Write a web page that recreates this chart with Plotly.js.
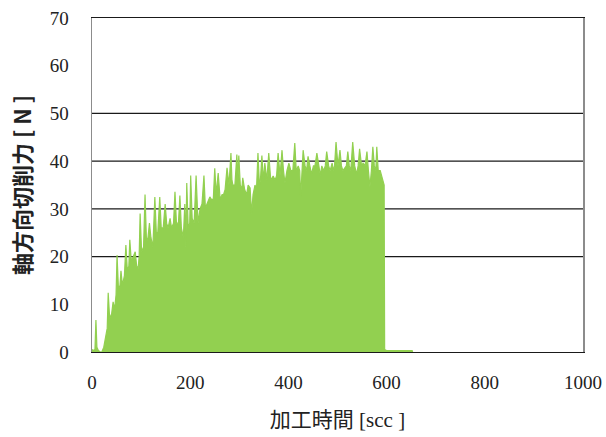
<!DOCTYPE html>
<html>
<head>
<meta charset="utf-8">
<script src="https://cdn.plot.ly/plotly-3.0.1.min.js"></script>
<style>html,body{margin:0;padding:0;background:#fff;}#chart{width:606px;height:437px;}</style>
</head>
<body>
<div id="chart"></div>
<script>
// Machining time [sec]
var timeSec = [
  0, 3, 6, 8, 10, 13, 17, 20, 24, 28,
  31, 33, 36, 40, 43, 46, 49, 51, 54, 57,
  59, 62, 66, 69, 72, 75, 77, 80, 84, 88,
  91, 94, 96, 98, 101, 105, 108, 111, 114, 117,
  120, 124, 128, 131, 134, 138, 141, 145, 149, 152,
  155, 159, 162, 166, 169, 172, 176, 179, 182, 186,
  189, 191, 193, 196, 199, 201, 204, 208, 212, 214,
  216, 220, 224, 228, 231, 234, 237, 240, 243, 247,
  250, 253, 257, 261, 265, 268, 271, 275, 279, 283,
  285, 287, 291, 295, 297, 299, 302, 305, 307, 311,
  315, 318, 322, 325, 328, 332, 335, 338, 341, 343,
  346, 349, 352, 356, 360, 364, 369, 373, 376, 379,
  383, 387, 390, 393, 397, 401, 405, 409, 413, 416,
  420, 423, 425, 427, 430, 434, 437, 440, 443, 447,
  451, 454, 458, 462, 465, 468, 472, 475, 478, 482,
  485, 489, 492, 494, 497, 501, 505, 508, 511, 515,
  518, 521, 524, 527, 531, 535, 539, 542, 545, 549,
  552, 556, 560, 563, 566, 569, 572, 575, 578, 580,
  583, 587, 590, 593, 595, 596, 600, 640, 652, 653
];
// Axial cutting force [N]
var forceN = [
  0.5, 0.3, 0.5, 6.7, 1, 0.3, 0, 0, 1, 3,
  5, 12.4, 7, 8, 10.5, 9, 12, 20.3, 13, 14,
  17, 14, 16, 22.4, 17, 18, 23.5, 19, 20, 21,
  18, 17.5, 20, 29, 21, 22, 33, 23, 24, 27,
  24, 22, 32.5, 25, 25, 32.5, 26, 26, 31, 27,
  26, 28, 26, 27, 33.6, 27, 27, 32.8, 26, 24,
  31, 22, 35.4, 26, 27, 37, 28, 27, 37, 29,
  27, 30, 31, 37, 30, 31, 32, 32.5, 32, 32,
  38.5, 33, 37.5, 32, 33, 33, 34, 38.6, 35, 41.7,
  36, 35, 35, 41.4, 36, 41.2, 35, 34, 36.5, 34,
  33, 35, 34.4, 29, 33, 35, 34, 41.7, 35, 36,
  41.2, 36, 39.6, 36, 41.7, 36, 36.9, 36, 37, 41.7,
  37, 42.3, 38, 35.4, 38, 39.6, 38, 38, 43.8, 38,
  39, 38, 32.5, 38, 42.3, 39, 38, 41, 39, 37.3,
  39, 39, 41.7, 39, 37, 39, 38, 39, 42, 39,
  38, 39.6, 38, 39, 44, 39, 42.3, 39, 38, 38.6,
  39, 42, 39, 38, 44, 39, 37.3, 39, 42.6, 39,
  39.6, 39, 42, 38, 34.6, 38, 43, 39, 38, 43,
  38, 38, 37, 35.6, 35, 0.5, 0.3, 0.3, 0.3, 0
];
var yTickVals = [0, 10, 20, 30, 40, 50, 60, 70];
var xTickVals = [0, 200, 400, 600, 800, 1000];
var gridVals = [20, 30, 40, 50];

function serifLabel(v) {
  return '<span style="font-family:Liberation Serif">' + v + '</span>';
}

var trace = {
  x: timeSec,
  y: forceN,
  type: 'scatter',
  mode: 'lines',
  line: {color: '#92d050', width: 1.2},
  fill: 'tozeroy',
  fillcolor: '#92d050',
  hoverinfo: 'skip'
};

var shapes = gridVals.map(function (v) {
  return {type: 'line', xref: 'paper', yref: 'y', x0: 0, x1: 1, y0: v, y1: v,
          line: {color: '#1a1a1a', width: 1.3}, layer: 'below'};
});

var serif = 'Liberation Serif';
var cjk = 'Noto Sans CJK JP';

var layout = {
  width: 606, height: 437,
  margin: {l: 92, r: 23, t: 18, b: 85},
  paper_bgcolor: '#ffffff',
  plot_bgcolor: '#ffffff',
  font: {family: serif, size: 19, color: '#222'},
  showlegend: false,
  shapes: shapes,
  xaxis: {
    range: [0, 1000],
    tickvals: xTickVals,
    ticktext: xTickVals.map(serifLabel),
    showgrid: false,
    zeroline: false,
    showline: true,
    linecolor: '#1a1a1a',
    linewidth: 1.3,
    mirror: true,
    layer: 'below traces',
    ticks: '',
    ticklabelstandoff: 13,
    tickfont: {family: serif, size: 19, color: '#222'},
    title: {
      text: '<span style="font-family:Noto Sans CJK JP">加工時間</span> [scc ]',
      font: {family: serif, size: 21, color: '#222'},
      standoff: 20
    }
  },
  yaxis: {
    range: [0, 70],
    tickvals: yTickVals,
    ticktext: yTickVals.map(serifLabel),
    showgrid: false,
    zeroline: false,
    showline: true,
    linecolor: '#8c8c8c',
    linewidth: 1.5,
    mirror: true,
    ticks: '',
    ticklabelstandoff: 18,
    tickfont: {family: serif, size: 19, color: '#222'},
    title: {
      text: '<b>軸方向切削力 [ N ]</b>',
      font: {family: cjk, size: 22, color: '#222'},
      standoff: 12
    }
  }
};

Plotly.newPlot('chart', [trace], layout, {staticPlot: true, displayModeBar: false});
</script>
</body>
</html>
